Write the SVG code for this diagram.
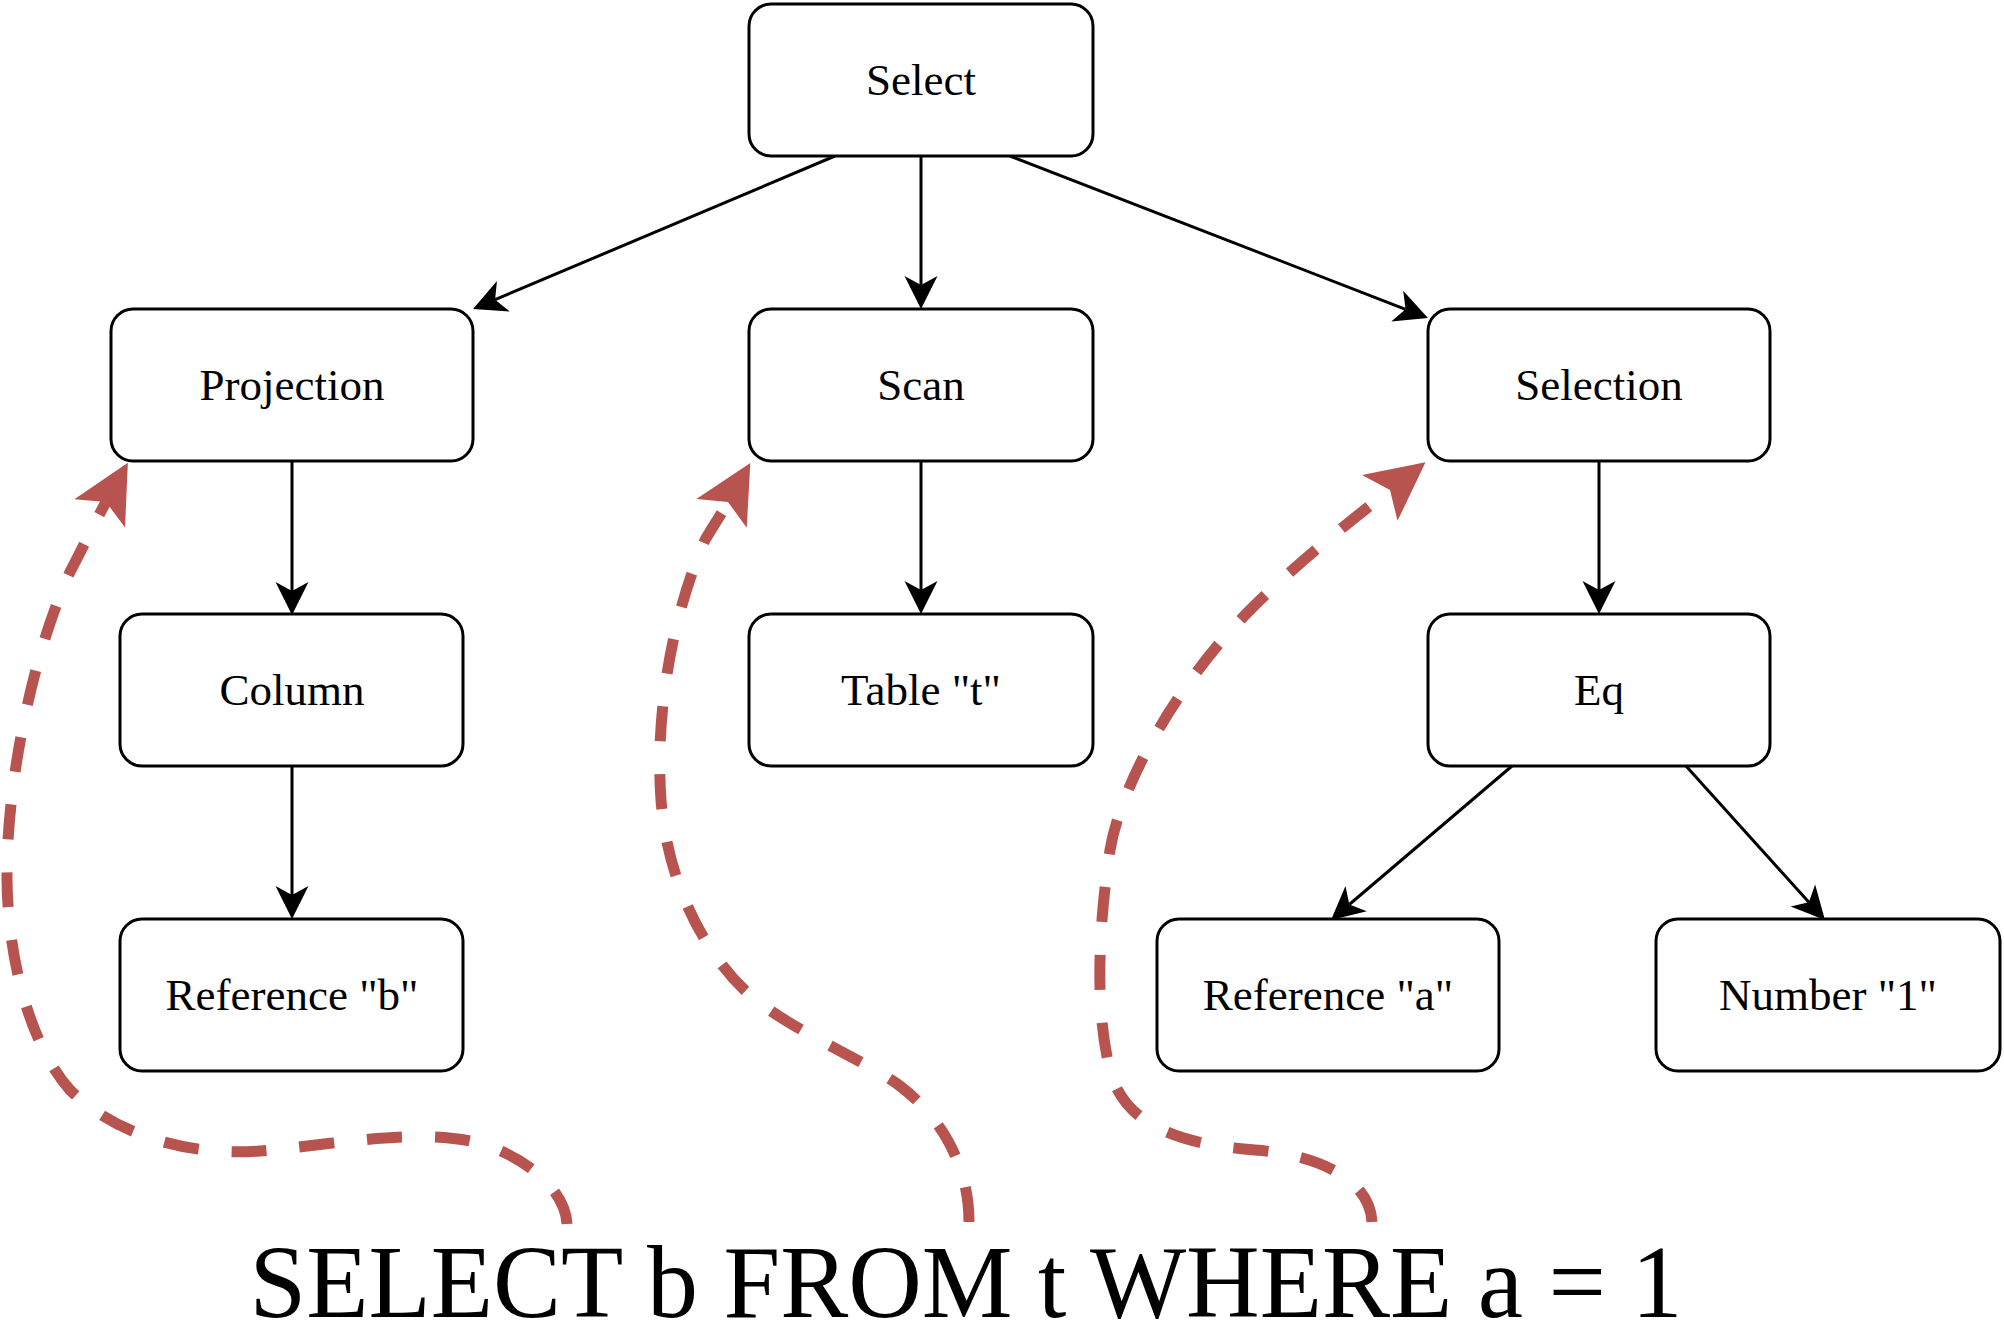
<svg xmlns="http://www.w3.org/2000/svg" width="2004" height="1344" viewBox="0 0 2004 1344">
<style>
.box{fill:#ffffff;stroke:#000000;stroke-width:3}
.lbl{font-family:"Liberation Serif","Times New Roman",serif;font-size:45px;fill:#000000;text-anchor:middle}
.edge{fill:none;stroke:#000000;stroke-width:3;marker-end:url(#arrB)}
.map{fill:none;stroke:#b85450;stroke-width:11;stroke-dasharray:35 33;marker-end:url(#arrR)}
.sql{font-family:"Liberation Serif","Times New Roman",serif;font-size:104px;fill:#000000;text-anchor:middle}
</style>
<defs>
<marker id="arrB" markerUnits="userSpaceOnUse" orient="auto" refX="0" refY="0" markerWidth="80" markerHeight="80" viewBox="-40 -40 80 80" overflow="visible">
<path d="M24,0 L-9,-16.5 L0,0 L-9,16.5 Z" fill="#000000"/>
</marker>
<marker id="arrR" markerUnits="userSpaceOnUse" orient="auto" refX="0" refY="0" markerWidth="120" markerHeight="120" viewBox="-60 -60 120 120" overflow="visible">
<path d="M45,0 L-13,-29 L0,0 L-13,29 Z" fill="#b85450"/>
</marker>
</defs>
<rect width="2004" height="1344" fill="#ffffff"/>
<g id="connectors">
<path class="edge" d="M835,156 L495.1,299.7"/>
<path class="edge" d="M921,156 L921,285"/>
<path class="edge" d="M1010,156 L1405.6,309.3"/>
<path class="edge" d="M292,461 L292,591"/>
<path class="edge" d="M921,461 L921,590"/>
<path class="edge" d="M1599,461 L1599,590"/>
<path class="edge" d="M292,766 L292,895"/>
<path class="edge" d="M1512,766 L1349.3,904.5"/>
<path class="edge" d="M1686,766 L1808.9,902.2"/>
</g>
<g id="mappings">
<path class="map" d="M567,1224 C565,1185 515,1150 470,1141 C410,1129 330,1145 260,1151 C180,1157 110,1130 70,1090 C30,1045 8,960 7,880 C6,790 30,660 70,572 C80,553 96,520 106,502"/>
<path class="map" d="M969,1222 C969,1170 945,1120 900,1086 C865,1060 790,1030 750,995 C710,960 668,890 661,800 C655,720 670,620 705,540 C712,528 720,516 728,502"/>
<path class="map" d="M1372,1222 C1370,1180 1320,1155 1255,1150 C1190,1145 1125,1130 1110,1070 C1095,1010 1098,930 1110,850 C1122,780 1180,680 1250,610 C1295,565 1345,525 1390,490"/>
</g>
<g id="node-select"><rect class="box" x="749" y="4" width="344" height="152" rx="22"/><text class="lbl" x="921" y="95">Select</text></g>
<g id="node-projection"><rect class="box" x="111" y="309" width="362" height="152" rx="22"/><text class="lbl" x="292" y="400">Projection</text></g>
<g id="node-scan"><rect class="box" x="749" y="309" width="344" height="152" rx="22"/><text class="lbl" x="921" y="400">Scan</text></g>
<g id="node-selection"><rect class="box" x="1428" y="309" width="342" height="152" rx="22"/><text class="lbl" x="1599" y="400">Selection</text></g>
<g id="node-column"><rect class="box" x="120" y="614" width="343" height="152" rx="22"/><text class="lbl" x="292" y="705">Column</text></g>
<g id="node-table"><rect class="box" x="749" y="614" width="344" height="152" rx="22"/><text class="lbl" x="921" y="705">Table "t"</text></g>
<g id="node-eq"><rect class="box" x="1428" y="614" width="342" height="152" rx="22"/><text class="lbl" x="1599" y="705">Eq</text></g>
<g id="node-ref-b"><rect class="box" x="120" y="919" width="343" height="152" rx="22"/><text class="lbl" x="292" y="1010">Reference "b"</text></g>
<g id="node-ref-a"><rect class="box" x="1157" y="919" width="342" height="152" rx="22"/><text class="lbl" x="1328" y="1010">Reference "a"</text></g>
<g id="node-number"><rect class="box" x="1656" y="919" width="344" height="152" rx="22"/><text class="lbl" x="1828" y="1010">Number "1"</text></g>
<g id="sql-text"><text class="sql" x="966" y="1317" textLength="1433" lengthAdjust="spacingAndGlyphs">SELECT b FROM t WHERE a = 1</text></g>
</svg>
